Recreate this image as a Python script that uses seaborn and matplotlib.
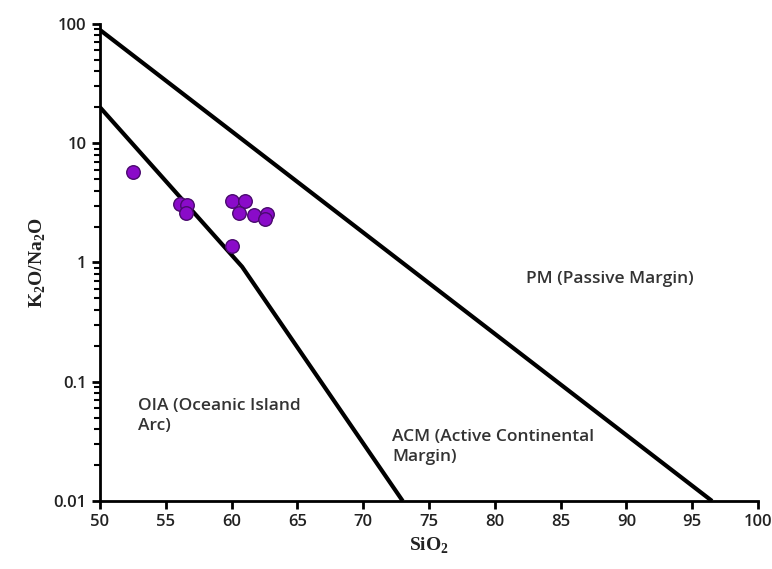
import numpy as np
import pandas as pd
import matplotlib
matplotlib.use("Agg")
import matplotlib.pyplot as plt
from matplotlib.ticker import LogLocator, FixedLocator, FixedFormatter, NullFormatter
import seaborn as sns

# sample data
sio2 = [52.5, 56.1, 56.6, 56.5, 60.0, 61.0, 60.6, 61.7, 62.7, 62.5, 60.0]
k2o_na2o = [5.7, 3.1, 3.05, 2.6, 3.3, 3.25, 2.6, 2.5, 2.55, 2.3, 1.38]

# field boundaries
pm_x = [50, 96.5]
pm_y = [89, 0.01]
oia_x = [50, 60.8, 73.0]
oia_y = [20, 0.92, 0.01]

y_ticks = [0.01, 0.1, 1, 10, 100]
y_labels = ["0.01", "0.1", "1", "10", "100"]
x_ticks = list(range(50, 101, 5))

df = pd.DataFrame({"SiO2": sio2, "ratio": k2o_na2o})

sns.set_style("ticks")
plt.rcParams['font.family'] = ['Open Sans', 'DejaVu Sans']
plt.rcParams['mathtext.fontset'] = 'custom'
plt.rcParams['mathtext.rm'] = 'Liberation Serif:bold'

fig = plt.figure(figsize=(7.72, 5.69), dpi=100)
ax = fig.add_axes([0.1295, 0.1195, 0.8525, 0.8385])

ax.plot(pm_x, pm_y, color="black", lw=3, solid_capstyle="butt", zorder=2)
ax.plot(oia_x, oia_y, color="black", lw=3, solid_capstyle="butt", zorder=2)

sns.scatterplot(data=df, x="SiO2", y="ratio", ax=ax, s=95, color="#8a0bc9",
                edgecolor="#4a0a6e", linewidth=1.0, zorder=3, legend=False)

ax.set_yscale("log")
ax.set_xlim(50, 100)
ax.set_ylim(0.01, 100)
ax.xaxis.set_major_locator(FixedLocator(x_ticks))
ax.yaxis.set_major_locator(FixedLocator(y_ticks))
ax.yaxis.set_major_formatter(FixedFormatter(y_labels))
ax.yaxis.set_minor_locator(LogLocator(base=10, subs=np.arange(2, 10)))
ax.yaxis.set_minor_formatter(NullFormatter())

sns.despine(ax=ax)
for sp in ["left", "bottom"]:
    ax.spines[sp].set_linewidth(2)
    ax.spines[sp].set_color("black")
ax.tick_params(axis="both", which="major", length=6, width=2, color="black",
               labelsize=12, labelcolor="#222222")
ax.tick_params(axis="y", which="minor", length=4, width=1.5, color="black")
for lab in ax.get_xticklabels() + ax.get_yticklabels():
    lab.set_fontweight("semibold")

ax.set_xlabel("SiO$_2$", family="Liberation Serif", fontweight="bold", fontsize=14,
              color="#222222")
ax.set_ylabel("K$_2$O/Na$_2$O", family="Liberation Serif", fontweight="bold", fontsize=14,
              color="#222222")

txt = dict(fontsize=12.5, fontweight="semibold", color="#333333", va="center")
ax.text(82.4, 0.72, "PM (Passive Margin)", **txt)
ax.text(52.9, 0.052, "OIA (Oceanic Island\nArc)", linespacing=1.35, **txt)
ax.text(72.2, 0.0285, "ACM (Active Continental\nMargin)", linespacing=1.35, **txt)

fig.savefig("out.png", dpi=100)
